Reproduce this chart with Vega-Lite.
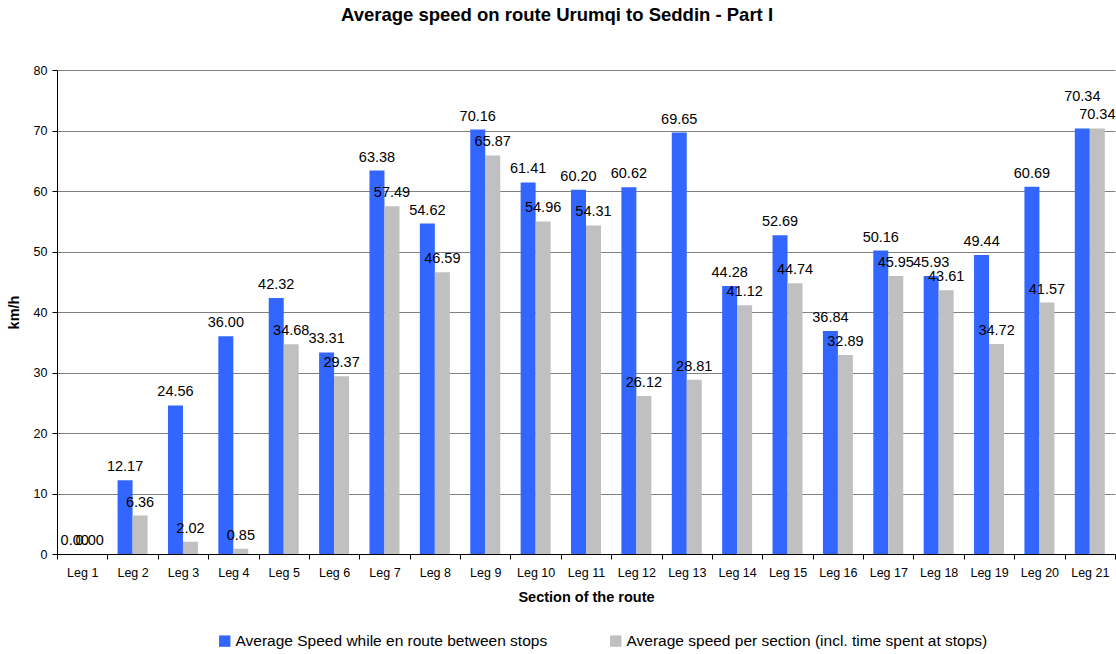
{
  "$schema": "https://vega.github.io/schema/vega-lite/v6.json",
  "width": 1058,
  "height": 484,
  "autosize": {"type": "none"},
  "padding": {"left": 57, "top": 70, "right": 1, "bottom": 100},
  "background": "white",
  "config": {
    "font": "Liberation Sans",
    "view": {"stroke": null}
  },
  "title": {
    "text": "Average speed on route Urumqi to Seddin - Part I",
    "fontSize": 18.5,
    "fontWeight": "bold",
    "font": "Liberation Sans",
    "color": "black",
    "anchor": "middle",
    "dx": -29,
    "offset": 40
  },
  "data": {
    "values": [
      {"leg": "Leg 1", "series": "Average Speed while en route between stops", "speed": 0.00},
      {"leg": "Leg 1", "series": "Average speed per section (incl. time spent at stops)", "speed": 0.00},
      {"leg": "Leg 2", "series": "Average Speed while en route between stops", "speed": 12.17},
      {"leg": "Leg 2", "series": "Average speed per section (incl. time spent at stops)", "speed": 6.36},
      {"leg": "Leg 3", "series": "Average Speed while en route between stops", "speed": 24.56},
      {"leg": "Leg 3", "series": "Average speed per section (incl. time spent at stops)", "speed": 2.02},
      {"leg": "Leg 4", "series": "Average Speed while en route between stops", "speed": 36.00},
      {"leg": "Leg 4", "series": "Average speed per section (incl. time spent at stops)", "speed": 0.85},
      {"leg": "Leg 5", "series": "Average Speed while en route between stops", "speed": 42.32},
      {"leg": "Leg 5", "series": "Average speed per section (incl. time spent at stops)", "speed": 34.68},
      {"leg": "Leg 6", "series": "Average Speed while en route between stops", "speed": 33.31},
      {"leg": "Leg 6", "series": "Average speed per section (incl. time spent at stops)", "speed": 29.37},
      {"leg": "Leg 7", "series": "Average Speed while en route between stops", "speed": 63.38},
      {"leg": "Leg 7", "series": "Average speed per section (incl. time spent at stops)", "speed": 57.49},
      {"leg": "Leg 8", "series": "Average Speed while en route between stops", "speed": 54.62},
      {"leg": "Leg 8", "series": "Average speed per section (incl. time spent at stops)", "speed": 46.59},
      {"leg": "Leg 9", "series": "Average Speed while en route between stops", "speed": 70.16},
      {"leg": "Leg 9", "series": "Average speed per section (incl. time spent at stops)", "speed": 65.87},
      {"leg": "Leg 10", "series": "Average Speed while en route between stops", "speed": 61.41},
      {"leg": "Leg 10", "series": "Average speed per section (incl. time spent at stops)", "speed": 54.96},
      {"leg": "Leg 11", "series": "Average Speed while en route between stops", "speed": 60.20},
      {"leg": "Leg 11", "series": "Average speed per section (incl. time spent at stops)", "speed": 54.31},
      {"leg": "Leg 12", "series": "Average Speed while en route between stops", "speed": 60.62},
      {"leg": "Leg 12", "series": "Average speed per section (incl. time spent at stops)", "speed": 26.12},
      {"leg": "Leg 13", "series": "Average Speed while en route between stops", "speed": 69.65},
      {"leg": "Leg 13", "series": "Average speed per section (incl. time spent at stops)", "speed": 28.81},
      {"leg": "Leg 14", "series": "Average Speed while en route between stops", "speed": 44.28},
      {"leg": "Leg 14", "series": "Average speed per section (incl. time spent at stops)", "speed": 41.12},
      {"leg": "Leg 15", "series": "Average Speed while en route between stops", "speed": 52.69},
      {"leg": "Leg 15", "series": "Average speed per section (incl. time spent at stops)", "speed": 44.74},
      {"leg": "Leg 16", "series": "Average Speed while en route between stops", "speed": 36.84},
      {"leg": "Leg 16", "series": "Average speed per section (incl. time spent at stops)", "speed": 32.89},
      {"leg": "Leg 17", "series": "Average Speed while en route between stops", "speed": 50.16},
      {"leg": "Leg 17", "series": "Average speed per section (incl. time spent at stops)", "speed": 45.95},
      {"leg": "Leg 18", "series": "Average Speed while en route between stops", "speed": 45.93},
      {"leg": "Leg 18", "series": "Average speed per section (incl. time spent at stops)", "speed": 43.61},
      {"leg": "Leg 19", "series": "Average Speed while en route between stops", "speed": 49.44},
      {"leg": "Leg 19", "series": "Average speed per section (incl. time spent at stops)", "speed": 34.72},
      {"leg": "Leg 20", "series": "Average Speed while en route between stops", "speed": 60.69},
      {"leg": "Leg 20", "series": "Average speed per section (incl. time spent at stops)", "speed": 41.57},
      {"leg": "Leg 21", "series": "Average Speed while en route between stops", "speed": 70.34},
      {"leg": "Leg 21", "series": "Average speed per section (incl. time spent at stops)", "speed": 70.34}
    ]
  },
  "encoding": {
    "x": {
      "field": "leg",
      "type": "nominal",
      "sort": null,
      "scale": {"paddingInner": 0, "paddingOuter": 0},
      "axis": {
        "title": "Section of the route",
        "titleFontSize": 14.5,
        "titleFontWeight": "bold",
        "titleColor": "black",
        "titlePadding": 12,
        "labelAngle": 0,
        "labelFontSize": 12.5,
        "labelColor": "black",
        "labelPadding": 7,
        "tickBand": "extent",
        "tickSize": 5,
        "tickColor": "black",
        "domainColor": "black",
        "grid": false
      }
    },
    "xOffset": {
      "field": "series",
      "type": "nominal",
      "scale": {"paddingInner": 0, "paddingOuter": 0.68}
    },
    "y": {
      "field": "speed",
      "type": "quantitative",
      "scale": {"domain": [0, 80], "nice": false},
      "axis": {
        "title": "km/h",
        "titleFontSize": 14.5,
        "titleFontWeight": "bold",
        "titleColor": "black",
        "titlePadding": 12,
        "values": [0, 10, 20, 30, 40, 50, 60, 70, 80],
        "labelFontSize": 12.5,
        "labelColor": "black",
        "labelPadding": 5,
        "tickSize": 5,
        "tickColor": "black",
        "domainColor": "black",
        "gridColor": "#808080",
        "gridOpacity": 1,
        "gridWidth": 1
      }
    }
  },
  "layer": [
    {
      "mark": {"type": "bar"},
      "encoding": {
        "color": {
          "field": "series",
          "type": "nominal",
          "scale": {
            "domain": ["Average Speed while en route between stops", "Average speed per section (incl. time spent at stops)"],
            "range": ["#3366FF", "#C0C0C0"]
          },
          "legend": {
            "title": null,
            "orient": "none",
            "direction": "horizontal",
            "legendX": 160,
            "legendY": 563,
            "symbolType": "square",
            "symbolSize": 130,
            "symbolStrokeWidth": 0,
            "symbolOpacity": 1,
            "labelFontSize": 15.5,
            "labelColor": "black",
            "labelLimit": 500,
            "labelOffset": 3,
            "columnPadding": 60
          }
        }
      }
    },
    {
      "transform": [{"filter": "datum.leg !== 'Leg 21' || datum.series !== 'Average Speed while en route between stops'"}],
      "mark": {"type": "text", "baseline": "alphabetic", "dy": -9, "fontSize": 14.5, "color": "black"},
      "encoding": {
        "text": {"field": "speed", "type": "quantitative", "format": ".2f"}
      }
    },
    {
      "transform": [{"filter": "datum.leg === 'Leg 21' && datum.series === 'Average Speed while en route between stops'"}],
      "mark": {"type": "text", "baseline": "alphabetic", "dy": -27, "fontSize": 14.5, "color": "black"},
      "encoding": {
        "text": {"field": "speed", "type": "quantitative", "format": ".2f"}
      }
    }
  ]
}
